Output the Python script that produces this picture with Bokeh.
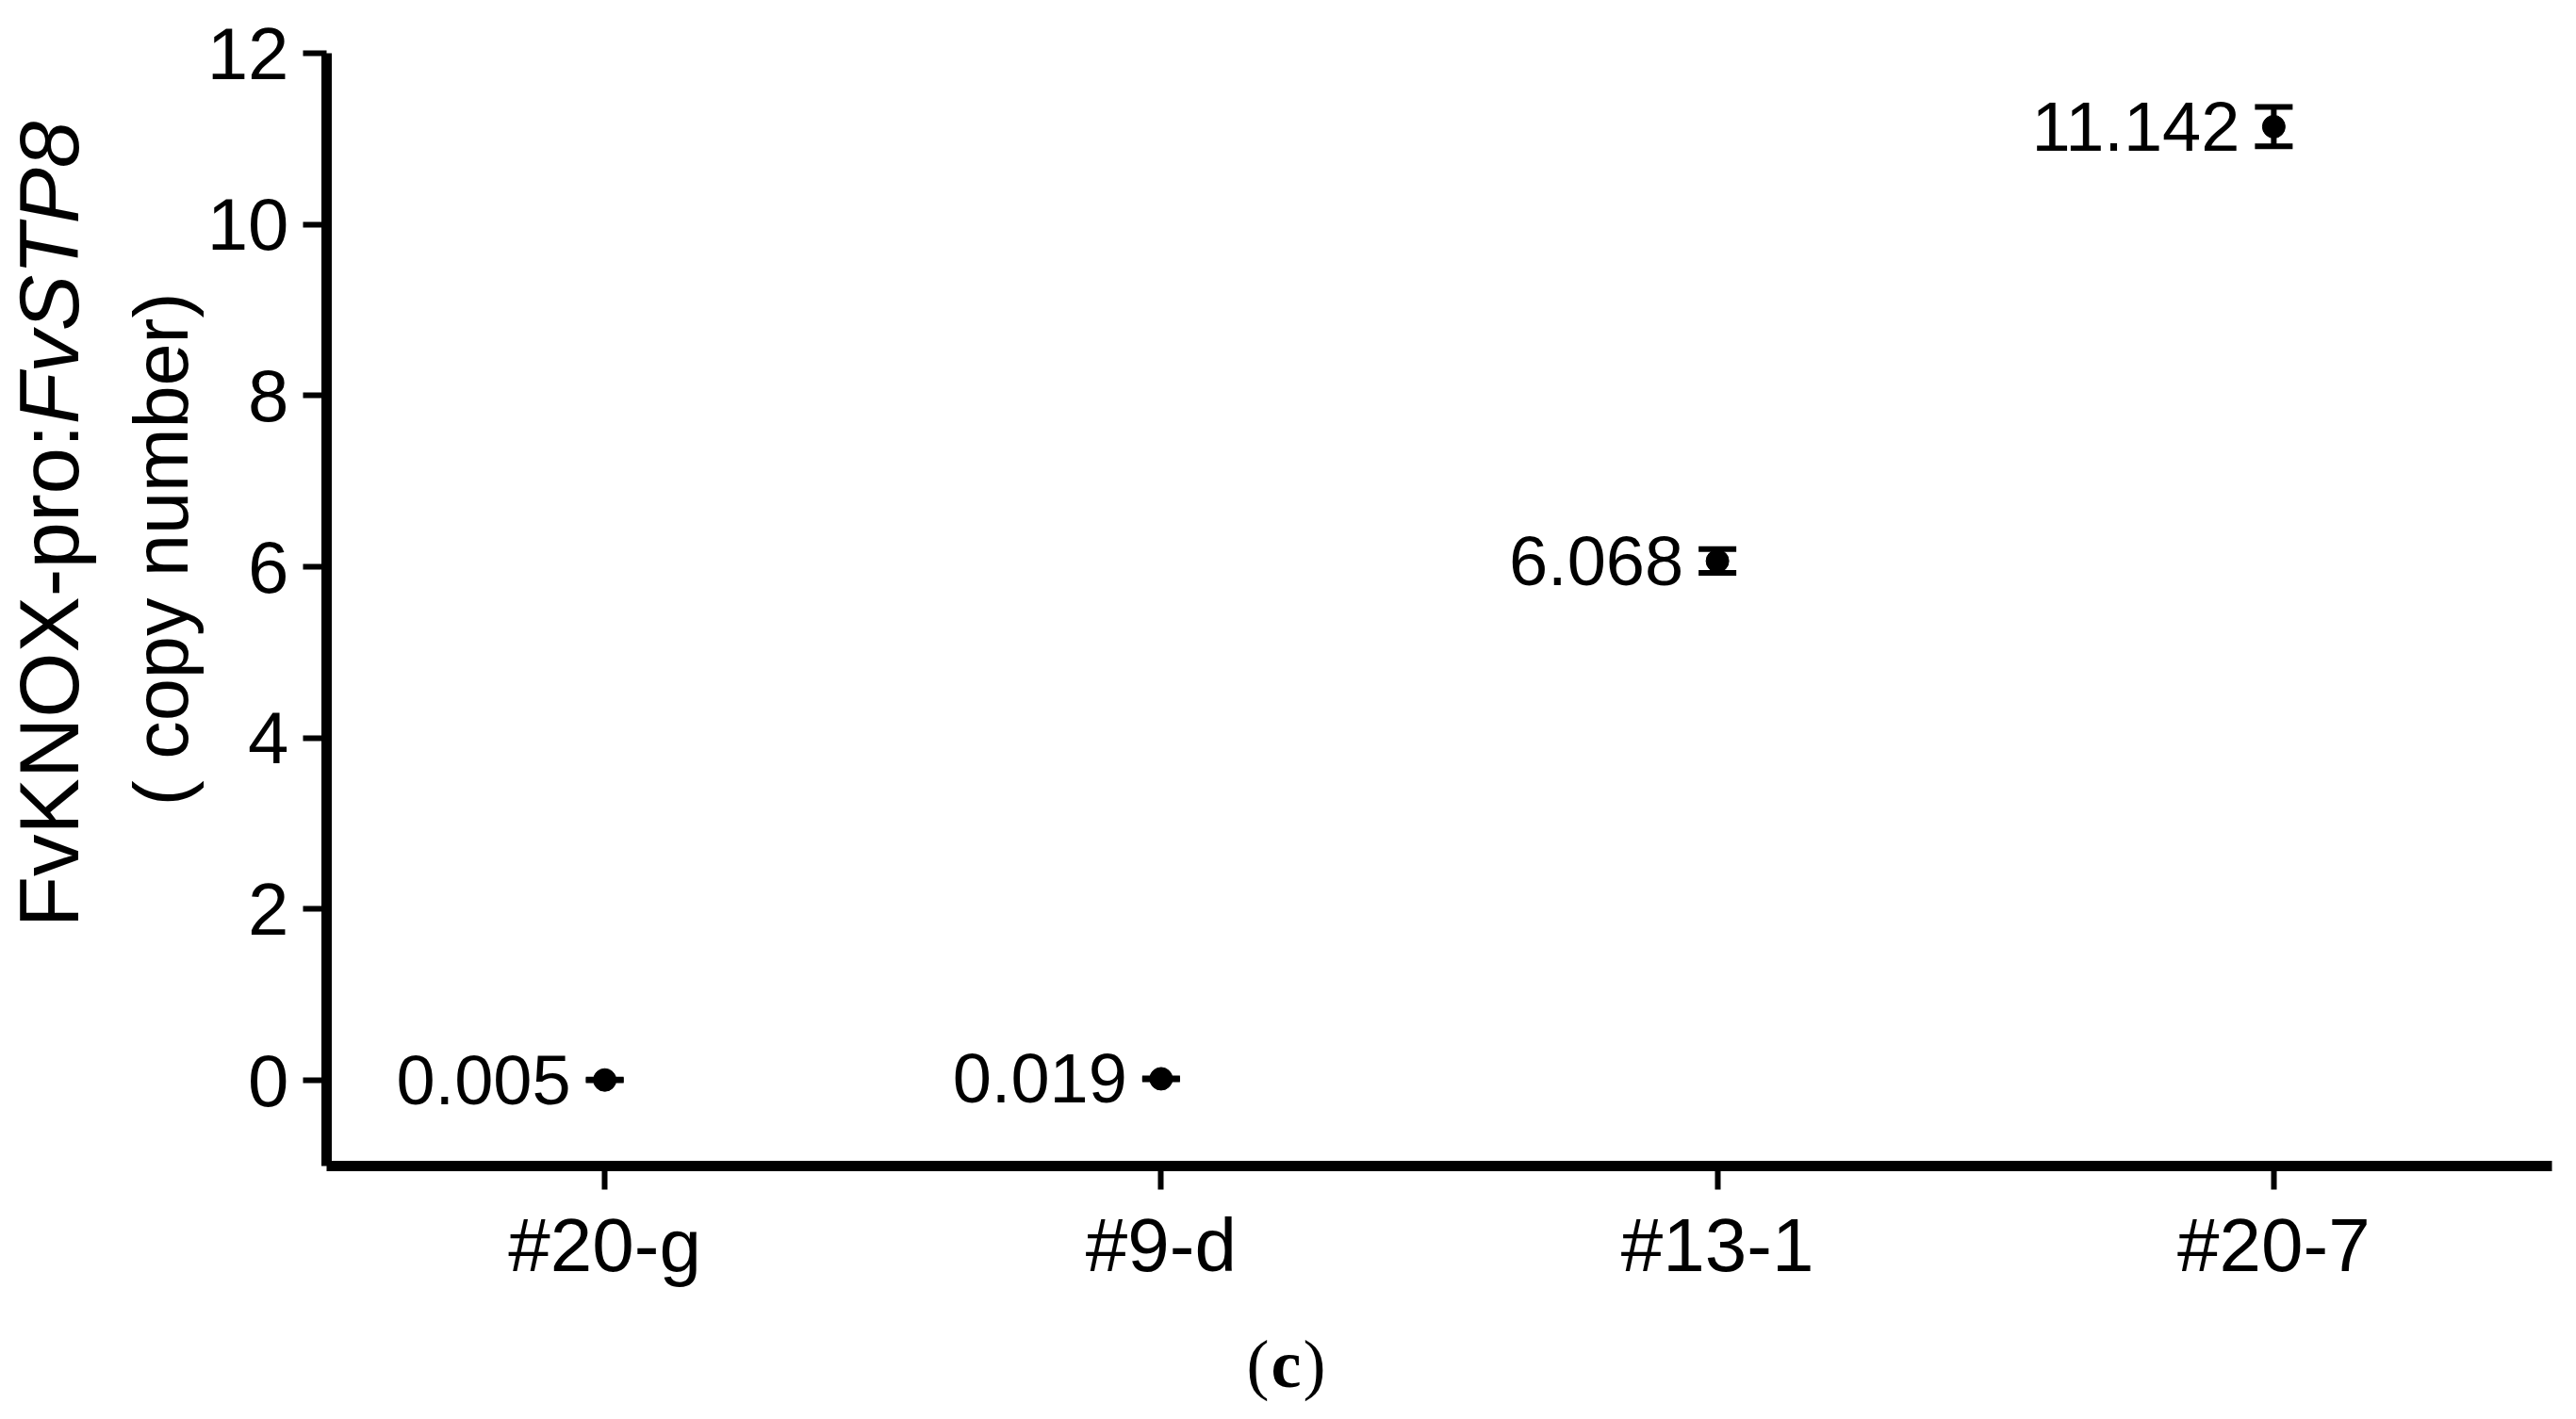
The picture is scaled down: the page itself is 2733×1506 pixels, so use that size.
import math
from bokeh.plotting import figure
from bokeh.layouts import row, column
from bokeh.models import (ColumnDataSource, FactorRange, Range1d, FixedTicker,
                          Whisker, TeeHead, LabelSet, Label)
from bokeh.core.properties import value
from bokeh.embed import file_html
from bokeh.resources import INLINE

# ---- data ----
categories = ["#20-g", "#9-d", "#13-1", "#20-7"]
values = [0.005, 0.019, 6.068, 11.142]
errors = [0.004, 0.006, 0.14, 0.23]
y_ticks = [0, 2, 4, 6, 8, 10, 12]

FONT = "Liberation Sans"
SERIF = "Liberation Serif"

TOTAL_W, TOTAL_H = 2717, 1490
LEFT_W = 216
BOTTOM_H = 110
MAIN_W = TOTAL_W - LEFT_W
MAIN_H = TOTAL_H - BOTTOM_H

src = ColumnDataSource(dict(
    cat=categories,
    val=values,
    upper=[v + e for v, e in zip(values, errors)],
    lower=[v - e for v, e in zip(values, errors)],
    txt=["{:.3f}".format(v) for v in values],
))

# ---- main plot ----
p = figure(width=MAIN_W, height=MAIN_H, output_backend="svg", toolbar_location=None,
           x_range=FactorRange(*categories), y_range=Range1d(-1, 12),
           min_border_left=343 - LEFT_W, min_border_right=10, min_border_top=56,
           min_border_bottom=MAIN_H - 1237)
p.outline_line_color = None
p.grid.visible = False
p.background_fill_color = "white"
p.border_fill_color = "white"

for ax in (p.xaxis[0], p.yaxis[0]):
    ax.axis_line_width = 11
    ax.axis_line_color = "black"
    ax.major_tick_line_width = 6
    ax.major_tick_line_color = "black"
    ax.major_tick_in = 0
    ax.major_tick_out = 25
    ax.minor_tick_line_color = None
    ax.major_label_text_font = FONT
    ax.major_label_text_color = "black"
p.xaxis[0].major_label_standoff = 14
p.yaxis[0].major_label_standoff = 15
p.xaxis[0].major_label_text_font_size = "80px"
p.yaxis[0].major_label_text_font_size = "78px"
p.yaxis[0].ticker = FixedTicker(ticks=y_ticks)

w = Whisker(source=src, base="cat", upper="upper", lower="lower",
            line_width=6, line_color="black",
            upper_head=TeeHead(size=40, line_width=6, line_color="black"),
            lower_head=TeeHead(size=40, line_width=6, line_color="black"))
p.add_layout(w)

p.scatter(x="cat", y="val", source=src, size=24, color="black")

labels = LabelSet(x="cat", y="val", text="txt", source=src, x_offset=-36,
                  text_align="right", text_baseline="middle",
                  text_font=value(FONT), text_font_size=value("74px"),
                  text_color="black")
p.add_layout(labels)


def blank_fig(w, h):
    f = figure(width=w, height=h, output_backend="svg", toolbar_location=None,
               x_range=Range1d(0, w), y_range=Range1d(h, 0),
               x_axis_type=None, y_axis_type=None,
               min_border=0, min_border_left=0, min_border_right=0,
               min_border_top=0, min_border_bottom=0)
    f.outline_line_color = None
    f.grid.visible = False
    f.background_fill_color = "white"
    f.border_fill_color = "white"
    return f


# ---- y-axis title panel ----
lf = blank_fig(LEFT_W, MAIN_H)
lf.add_layout(Label(x=51, y=460, text="FvKNOX-pro:", angle=math.pi / 2,
                    text_align="right", text_baseline="middle",
                    text_font=FONT, text_font_size="89px", text_color="black"))
lf.add_layout(Label(x=51, y=460, text="FvSTP8", angle=math.pi / 2,
                    text_align="left", text_baseline="middle",
                    text_font=FONT, text_font_style="italic",
                    text_font_size="89px", text_color="black"))
lf.add_layout(Label(x=170, y=615, text="( copy number)", angle=math.pi / 2,
                    text_align="center", text_baseline="middle",
                    text_font=FONT, text_font_size="81px", text_color="black"))

# ---- panel label ----
bf = blank_fig(TOTAL_W, BOTTOM_H)
bf.add_layout(Label(x=1364, y=67, text="(", x_offset=-18,
                    text_align="right", text_baseline="middle",
                    text_font=SERIF, text_font_size="72px", text_color="black"))
bf.add_layout(Label(x=1364, y=67, text="c",
                    text_align="center", text_baseline="middle",
                    text_font=SERIF, text_font_style="bold",
                    text_font_size="72px", text_color="black"))
bf.add_layout(Label(x=1364, y=67, text=")", x_offset=18,
                    text_align="left", text_baseline="middle",
                    text_font=SERIF, text_font_size="72px", text_color="black"))

layout = column(row(lf, p, spacing=0), bf, spacing=0)
open("out.html", "w").write(file_html(layout, INLINE))
